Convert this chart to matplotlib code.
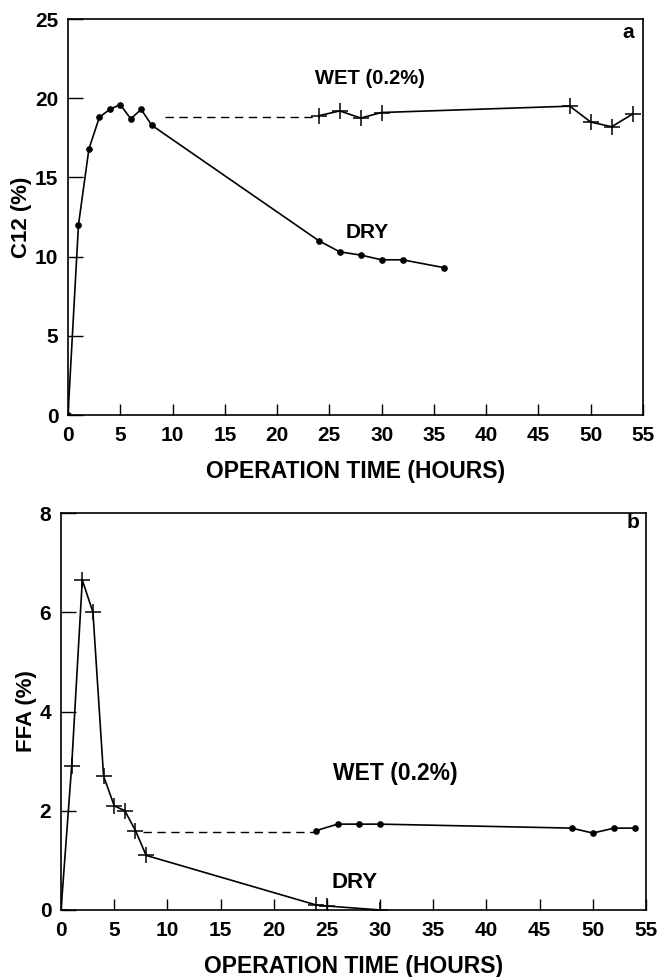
import matplotlib
matplotlib.use('Agg')
import matplotlib.pyplot as plt

plt.rcParams['font.family'] = ['Liberation Sans', 'DejaVu Sans']
plt.rcParams['font.weight'] = 'bold'

# panel a : C12 (%)
c12_dry_x = [0, 1, 2, 3, 4, 5, 6, 7, 8, 24, 26, 28, 30, 32, 36]
c12_dry_y = [0, 12.0, 16.8, 18.8, 19.3, 19.6, 18.7, 19.3, 18.3, 11.0, 10.3, 10.1, 9.8, 9.8, 9.3]
c12_wet_x = [24, 26, 28, 30, 48, 50, 52, 54]
c12_wet_y = [18.9, 19.2, 18.75, 19.1, 19.5, 18.5, 18.2, 19.0]
c12_gap_x = [9.3, 24]
c12_gap_y = [18.8, 18.8]

# panel b : FFA (%)
ffa_dry_x = [0, 1, 2, 3, 4, 5, 6, 7, 8, 24, 25, 30]
ffa_dry_y = [0, 2.9, 6.65, 6.0, 2.7, 2.1, 2.0, 1.6, 1.1, 0.1, 0.08, 0.0]
ffa_wet_x = [24, 26, 28, 30, 48, 50, 52, 54]
ffa_wet_y = [1.6, 1.73, 1.73, 1.73, 1.65, 1.55, 1.65, 1.65]
ffa_gap_x = [7.7, 24]
ffa_gap_y = [1.57, 1.57]

x_ticks = list(range(0, 60, 5))


def style_axes(ax, ymax, ystep, ylabel, ylab_x):
    ax.set_xlim(0, 55)
    ax.set_ylim(0, ymax)
    ax.set_xticks(x_ticks)
    ax.set_yticks(range(0, ymax + 1, ystep))
    ax.tick_params(axis='x', direction='in', length=8, width=1, pad=8, labelsize=15)
    ax.tick_params(axis='y', direction='in', length=11, width=1, pad=7, labelsize=15)
    for lab in ax.get_xticklabels() + ax.get_yticklabels():
        lab.set_fontweight('bold')
    for sp in ax.spines.values():
        sp.set_linewidth(1.2)
    ax.set_xlabel('OPERATION TIME (HOURS)', fontsize=16.5, fontweight='bold', labelpad=11)
    ax.set_ylabel(ylabel, fontsize=16, fontweight='bold')
    # label sits closer to the axis than the widest tick label
    ax.yaxis.set_label_coords(ylab_x, 0.5)


fig = plt.figure(figsize=(6.59, 9.77), dpi=100)

# ---- panel a
ax1 = fig.add_axes([0.1032, 0.5752, 0.8725, 0.4053])
ax1.plot(c12_dry_x, c12_dry_y, color='black', lw=1.2, marker='o', ms=3.8)
ax1.plot(c12_gap_x, c12_gap_y, color='black', lw=1.0, ls=(0, (6, 4)))
ax1.plot(c12_wet_x, c12_wet_y, color='black', lw=1.2, marker='+', ms=11, mew=1.1)
style_axes(ax1, 25, 5, 'C12 (%)', -0.063)
ax1.text(0.43, 0.85, 'WET (0.2%)', transform=ax1.transAxes, fontsize=14.5, fontweight='bold',
         va='center')
ax1.text(0.482, 0.462, 'DRY', transform=ax1.transAxes, fontsize=15, fontweight='bold',
         va='center')
ax1.text(0.985, 0.965, 'a', transform=ax1.transAxes, ha='right', va='center',
         fontsize=15, fontweight='bold')

# ---- panel b
ax2 = fig.add_axes([0.0926, 0.0686, 0.8877, 0.4063])
ax2.plot(ffa_dry_x, ffa_dry_y, color='black', lw=1.2, marker='+', ms=11, mew=1.1)
ax2.plot(ffa_gap_x, ffa_gap_y, color='black', lw=1.0, ls=(0, (6, 4)))
ax2.plot(ffa_wet_x, ffa_wet_y, color='black', lw=1.2, marker='o', ms=3.8)
style_axes(ax2, 8, 2, 'FFA (%)', -0.041)
ax2.text(0.465, 0.345, 'WET (0.2%)', transform=ax2.transAxes, fontsize=16.5, fontweight='bold',
         va='center')
ax2.text(0.462, 0.07, 'DRY', transform=ax2.transAxes, fontsize=16, fontweight='bold',
         va='center')
ax2.text(0.988, 0.975, 'b', transform=ax2.transAxes, ha='right', va='center',
         fontsize=15, fontweight='bold')

fig.savefig('out.png', dpi=100)
